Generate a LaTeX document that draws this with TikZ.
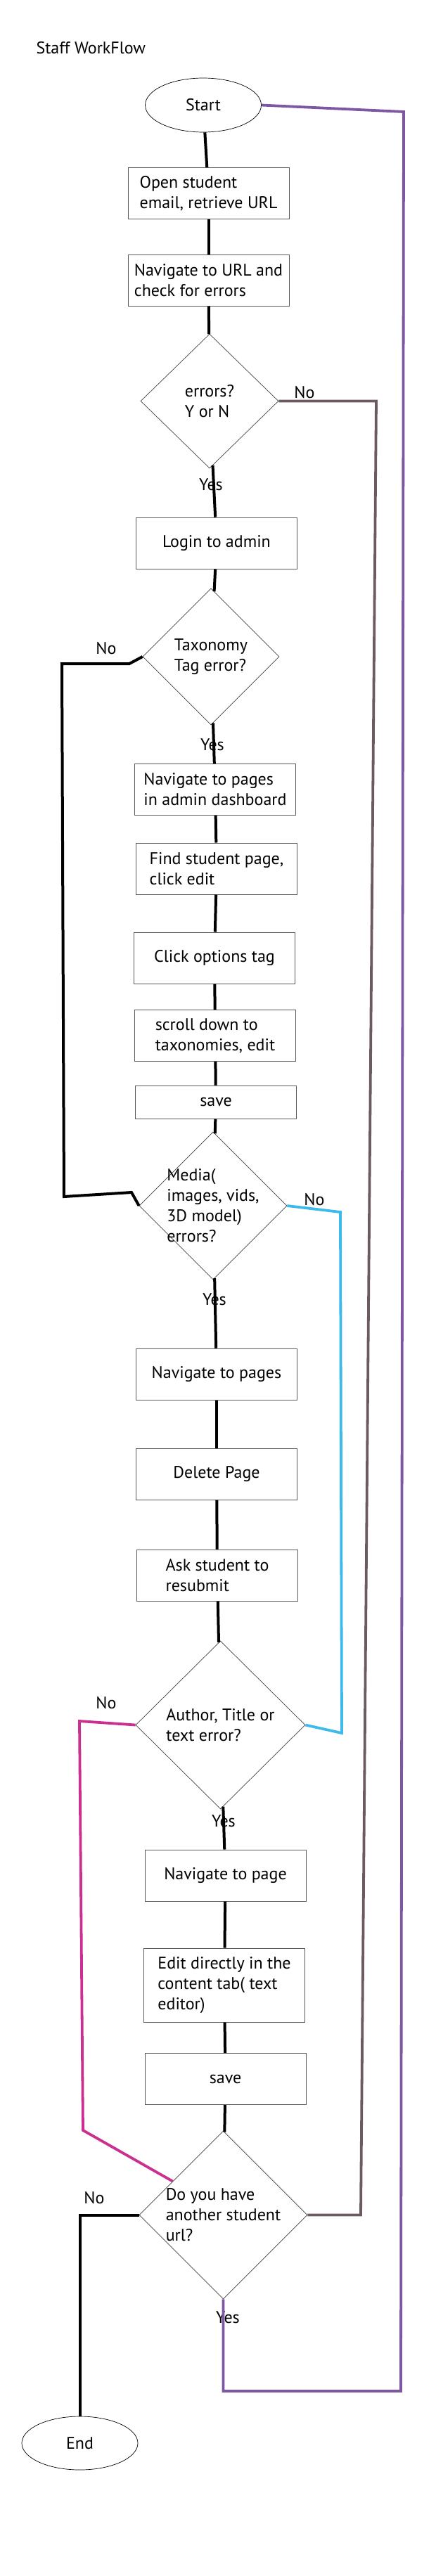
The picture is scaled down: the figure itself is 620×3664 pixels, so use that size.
\documentclass[tikz,border=0pt]{standalone}
\usepackage{fontspec}
\setmainfont{PT Sans}
\usetikzlibrary{shapes.geometric,calc}
\definecolor{loopbrown}{HTML}{6B5B60}
\definecolor{looppurple}{HTML}{7E57A3}
\definecolor{loopblue}{HTML}{3DB9EC}
\definecolor{loopmagenta}{HTML}{CB2F90}
\begin{document}
\begin{tikzpicture}[x=1pt,y=-1pt,
  every node/.style={font=\fontsize{24}{29}\selectfont},
  stepbox/.style={draw=gray!70!black, line width=1pt, minimum width=229pt, minimum height=73pt, align=left, inner sep=0pt},
  terminal/.style={ellipse, draw, line width=0.7pt, minimum width=165pt, minimum height=77pt},
  decision/.style={diamond, draw=black!75, line width=0.7pt, align=left, inner sep=-14pt},
  link/.style={line width=4pt},
  backline/.style={line width=3.8pt},
  answer/.style={inner sep=0pt}]
\useasboundingbox (0,0) rectangle (620,3664);
% steps down the middle
\node [anchor=west] (title) at (48,68) {Staff WorkFlow};
\node [terminal] (start) at (289,149.5) {Start};
\node [stepbox] (open) at (296.5,275) {Open student\\email, retrieve URL};
\node [stepbox] (navurl) at (296.5,398.5) {Navigate to URL and\\check for errors};
\node [decision, minimum width=196pt, minimum height=191pt] (err) at (298,570.5) {errors?\\Y or N};
\node [stepbox] (login) at (308,772.5) {Login to admin};
\node [decision, minimum width=194pt, minimum height=194pt] (tax) at (300,934) {Taxonomy\\Tag error?};
\node [stepbox] (navdash) at (306,1123) {Navigate to pages\\in admin dashboard};
\node [stepbox] (find) at (308,1235.5) {Find student page,\\click edit};
\node [stepbox] (opts) at (305,1362.5) {Click options tag};
\node [stepbox] (scroll) at (306,1473) {scroll down to\\taxonomies, edit};
\node [stepbox, minimum height=47pt] (save1) at (307,1567.5) {save};
\node [decision, minimum width=210pt, minimum height=210pt] (media) at (303,1715) {Media(\\images, vids,\\3D model)\\errors?};
\node [stepbox] (navpages) at (308,1954.5) {Navigate to pages};
\node [stepbox] (delete) at (308,2096.5) {Delete Page};
\node [stepbox] (ask) at (309,2240.5) {Ask student to\\resubmit};
\node [decision, minimum width=241pt, minimum height=239pt] (author) at (313.5,2453.5) {Author, Title or\\text error?};
\node [stepbox] (navpage) at (320.5,2667.5) {Navigate to page};
\node [stepbox, minimum height=105pt] (edit) at (319,2823.5) {Edit directly in the\\content tab( text\\editor)};
\node [stepbox] (save2) at (320.5,2957) {save};
\node [decision, minimum width=239pt, minimum height=239pt] (another) at (317.5,3150.5) {Do you have\\another student\\url?};
\node [terminal, minimum height=76pt] (end) at (113.5,3475) {End};
% answers
\node [answer] (yes1) at (300,689) {Yes};
\node [answer] (no1) at (433,558) {No};
\node [answer] (no2) at (151,922) {No};
\node [answer] (yes2) at (302,1059) {Yes};
\node [answer] (no3) at (447,1706) {No};
\node [answer] (yes3) at (305,1848) {Yes};
\node [answer] (no4) at (151,2422) {No};
\node [answer] (yes4) at (318,2590) {Yes};
\node [answer] (no5) at (134,3126) {No};
\node [answer] (yes5) at (324,3296) {Yes};
% main line
\draw [link] (start) -- (open);
\draw [link] (open) -- (navurl);
\draw [link] (navurl) -- (err);
\draw [link] (err) -- (login);
\draw [link] (login) -- (tax);
\draw [link] (tax) -- (navdash);
\draw [link] (navdash) -- (find);
\draw [link] (find) -- (opts);
\draw [link] (opts) -- (scroll);
\draw [link] (scroll) -- (save1);
\draw [link] (save1) -- (media);
\draw [link] (media) -- (navpages);
\draw [link] (navpages) -- (delete);
\draw [link] (delete) -- (ask);
\draw [link] (ask) -- (author);
\draw [link] (author) -- (navpage);
\draw [link] (navpage) -- (edit);
\draw [link] (edit) -- (save2);
\draw [link] (save2) -- (another);
% side branches
\draw [backline, draw=loopbrown] (err.east) -- (535,570.5) -- (513,3150.5) -- (another.east);
\draw [link] (tax.west) -- (184,944) -- (88,944) -- (91,1702) -- (187,1696) -- (media.west);
\draw [backline, draw=loopblue] (media.east) -- (484,1724) -- (486,2465) -- (author.east);
\draw [backline, draw=loopmagenta] (author.west) -- (113,2448) -- (118,3030) -- ($(another.north)!0.6!(another.west)$);
\draw [link] (another.west) -| (end);
\draw [backline, draw=looppurple] (another.south) |- (570,3401) -- (574,159) -- (start.east);
\end{tikzpicture}
\end{document}
